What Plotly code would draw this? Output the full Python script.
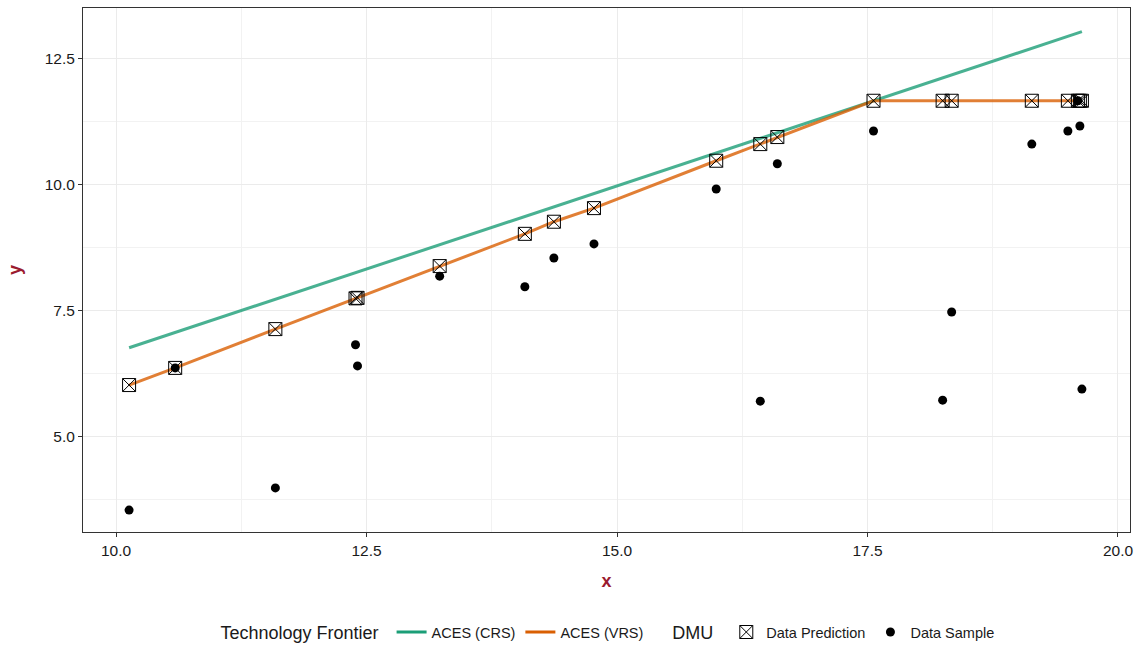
import plotly.graph_objects as go

# DMU inputs (x) with observed outputs and predicted frontier outputs
dmu_x = [10.13, 10.59, 11.59, 12.39, 12.41, 13.23, 14.08, 14.37, 14.77, 15.99,
         16.43, 16.60, 17.56, 18.25, 18.34, 19.14, 19.50, 19.60, 19.62, 19.64]
sample_y = [3.55, 6.37, 3.99, 6.83, 6.41, 8.19, 7.98, 8.55, 8.83, 9.92,
            5.71, 10.42, 11.07, 5.73, 7.48, 10.81, 11.07, 11.67, 11.17, 5.95]
pred_y = [6.03, 6.37, 7.14, 7.75, 7.76, 8.39, 9.03, 9.27, 9.54, 10.48,
          10.81, 10.95, 11.67, 11.67, 11.67, 11.67, 11.67, 11.67, 11.67, 11.67]

# CRS frontier (straight line) end points
crs_x = [10.13, 19.64]
crs_y = [6.77, 13.04]

x_ticks = [10.0, 12.5, 15.0, 17.5, 20.0]
y_ticks = [5.0, 7.5, 10.0, 12.5]

GREEN = "#1B9E77"
ORANGE = "#D95F02"
FONT = "Liberation Sans, Arial, sans-serif"
TITLE_COL = "#9B1B30"

fig = go.Figure()

# frontier lines
fig.add_trace(go.Scatter(x=crs_x, y=crs_y, mode="lines",
                         line=dict(color="rgba(27,158,119,0.8)", width=3),
                         showlegend=False, hoverinfo="skip"))
fig.add_trace(go.Scatter(x=dmu_x, y=pred_y, mode="lines",
                         line=dict(color="rgba(217,95,2,0.8)", width=3),
                         showlegend=False, hoverinfo="skip"))

# predictions and samples
fig.add_trace(go.Scatter(x=dmu_x, y=pred_y, mode="markers", name="Data Prediction",
                         marker=dict(symbol="square-x-open", size=13, color="black",
                                     line=dict(color="black", width=1)),
                         legend="legend2"))
fig.add_trace(go.Scatter(x=dmu_x, y=sample_y, mode="markers", name="Data Sample",
                         marker=dict(symbol="circle", size=9, color="black"),
                         legend="legend2"))

# legend-only entries for frontiers
fig.add_trace(go.Scatter(x=[None], y=[None], mode="lines", name="ACES (CRS)",
                         line=dict(color=GREEN, width=3), legend="legend"))
fig.add_trace(go.Scatter(x=[None], y=[None], mode="lines", name="ACES (VRS)",
                         line=dict(color=ORANGE, width=3), legend="legend"))

axis_common = dict(
    showline=True, linecolor="#333333", linewidth=1, mirror=True,
    ticks="outside", ticklen=4, tickcolor="#333333", tickwidth=1,
    showgrid=True, gridcolor="#EBEBEB", gridwidth=1.2,
    zeroline=False, automargin=False,
    tickfont=dict(family=FONT, size=15.5, color="#1a1a1a"),
)
minor_common = dict(showgrid=True, gridcolor="#F2F2F2", gridwidth=0.7, ticks="")

fig.update_layout(
    width=1138, height=646,
    margin=dict(l=83, r=8, t=8, b=114, autoexpand=False),
    plot_bgcolor="white", paper_bgcolor="white",
    font=dict(family=FONT, color="#1a1a1a"),
    xaxis=dict(range=[9.67, 20.12], tickvals=x_ticks,
               ticktext=[f"{v:.1f}" for v in x_ticks],
               minor=dict(tickvals=[11.25, 13.75, 16.25, 18.75], **minor_common),
               title=dict(text="<b>x</b>", font=dict(family=FONT, size=18, color=TITLE_COL),
                          standoff=16),
               **axis_common),
    yaxis=dict(range=[3.115, 13.51], tickvals=y_ticks,
               ticktext=[f"{v:.1f}" for v in y_ticks],
               minor=dict(tickvals=[3.75, 6.25, 8.75, 11.25], **minor_common),
               title=dict(text="<b>y</b>", font=dict(family=FONT, size=18, color=TITLE_COL),
                          standoff=18),
               **axis_common),
    legend=dict(orientation="h", xref="container", yref="container",
                x=0.192, xanchor="left", y=0.02, yanchor="middle",
                title=dict(text="Technology Frontier ", side="left",
                           font=dict(family=FONT, size=18)),
                font=dict(family=FONT, size=14.5), bgcolor="rgba(0,0,0,0)"),
    legend2=dict(orientation="h", xref="container", yref="container",
                 x=0.589, xanchor="left", y=0.02, yanchor="middle",
                 title=dict(text="DMU ", side="left", font=dict(family=FONT, size=18)),
                 font=dict(family=FONT, size=14.5), bgcolor="rgba(0,0,0,0)"),
)

fig.write_html("out.html")
